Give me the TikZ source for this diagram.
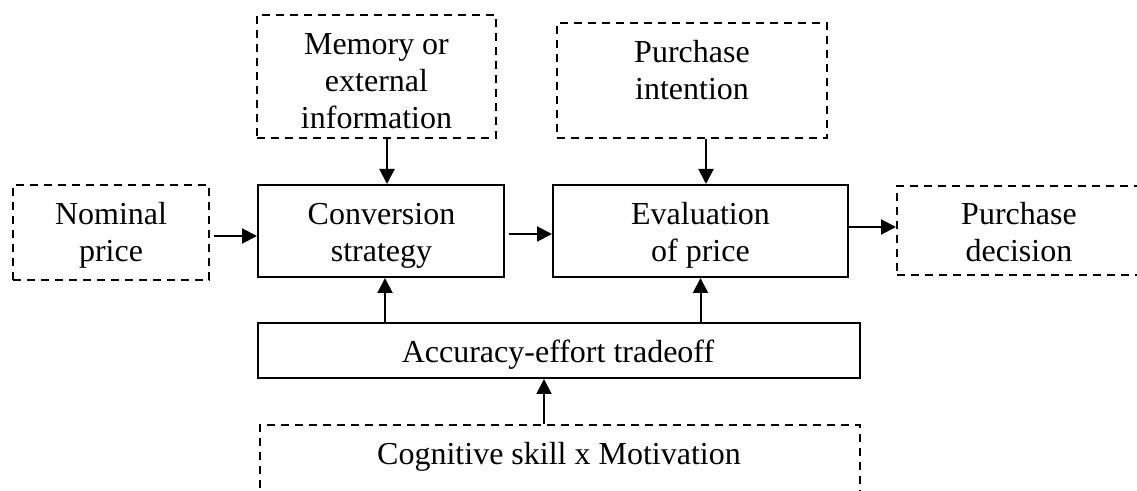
\documentclass[tikz,border=0pt]{standalone}
\usepackage{fontspec}
\setmainfont{Liberation Serif}
\usetikzlibrary{arrows.meta}
\begin{document}
\begin{tikzpicture}[x=0.5pt,y=-0.5pt,
  txt/.style={inner sep=0pt, align=center, font=\fontsize{16}{18.5}\selectfont},
  box/.style={draw, line width=1pt, inner sep=0pt},
  dbox/.style={box, dash pattern=on 4pt off 3pt},
  arr/.style={-{Triangle[length=7.5pt,width=7.5pt]}, line width=1pt}]
\useasboundingbox (0,0) rectangle (1137,491);

% solid process boxes
\node[box, minimum width=123pt, minimum height=46pt] (conv) at (381,231) {};
\node[box, minimum width=147.5pt, minimum height=46pt] (eval) at (700.5,231) {};
\node[box, minimum width=301pt, minimum height=27.5pt] (acc) at (559,350.5) {};

% dashed input/output boxes
\node[dbox, minimum width=98pt, minimum height=47.5pt] (nominal) at (111,232.5) {};
\node[dbox, minimum width=123pt, minimum height=44.5pt] (decision) at (1020,230.5) {};
\node[dbox, minimum width=119.5pt, minimum height=61.5pt] (memory) at (376.5,76.5) {};
\node[dbox, minimum width=135pt, minimum height=57.5pt] (intent) at (692,80.5) {};
\node[dbox, minimum width=300pt, minimum height=37.5pt] (cog) at (560,462.5) {};

% labels (every line carries a strut so the baselines are predictable)
\node[txt] (convtext) at (381.5,236.1) {\strut Conversion\\\strut strategy};
\node[txt] (evaltext) at (700.5,236.1) {\strut Evaluation\\\strut of price};
\node[txt] (acctext) at (558,355.6) {\strut Accuracy-effort tradeoff};
\node[txt] (nominaltext) at (111,236.1) {\strut Nominal\\\strut price};
\node[txt] (decisiontext) at (1019,236.1) {\strut Purchase\\\strut decision};
\node[txt] (memorytext) at (376.5,84.6) {\strut Memory or\\\strut external\\\strut information};
\node[txt] (intenttext) at (692,74.1) {\strut Purchase\\\strut intention};
\node[txt] (cogtext) at (559,457.6) {\strut Cognitive skill x Motivation};

% connectors
\draw[arr, shorten <=2pt] ([yshift=-1.75pt]nominal.east) -- ([yshift=-1.75pt]nominal.east -| conv.west);
\draw[arr, shorten <=2pt] ([yshift=-1.5pt]conv.east) -- ([yshift=-1.5pt]conv.east -| eval.west);
\draw[arr] ([yshift=2pt]eval.east) -- ([yshift=2pt]eval.east -| decision.west);
\draw[arr] ([xshift=5.25pt]memory.south) -- ([xshift=5.25pt]memory.south |- conv.north);
\draw[arr] ([xshift=7pt]intent.south) -- ([xshift=7pt]intent.south |- eval.north);
\draw[arr] ([xshift=2pt]conv.south |- acc.north) -- ([xshift=2pt]conv.south);
\draw[arr] (eval.south |- acc.north) -- (eval.south);
\draw[arr] ([xshift=-8pt]cog.north) -- ([xshift=-8pt]cog.north |- acc.south);
\end{tikzpicture}
\end{document}
